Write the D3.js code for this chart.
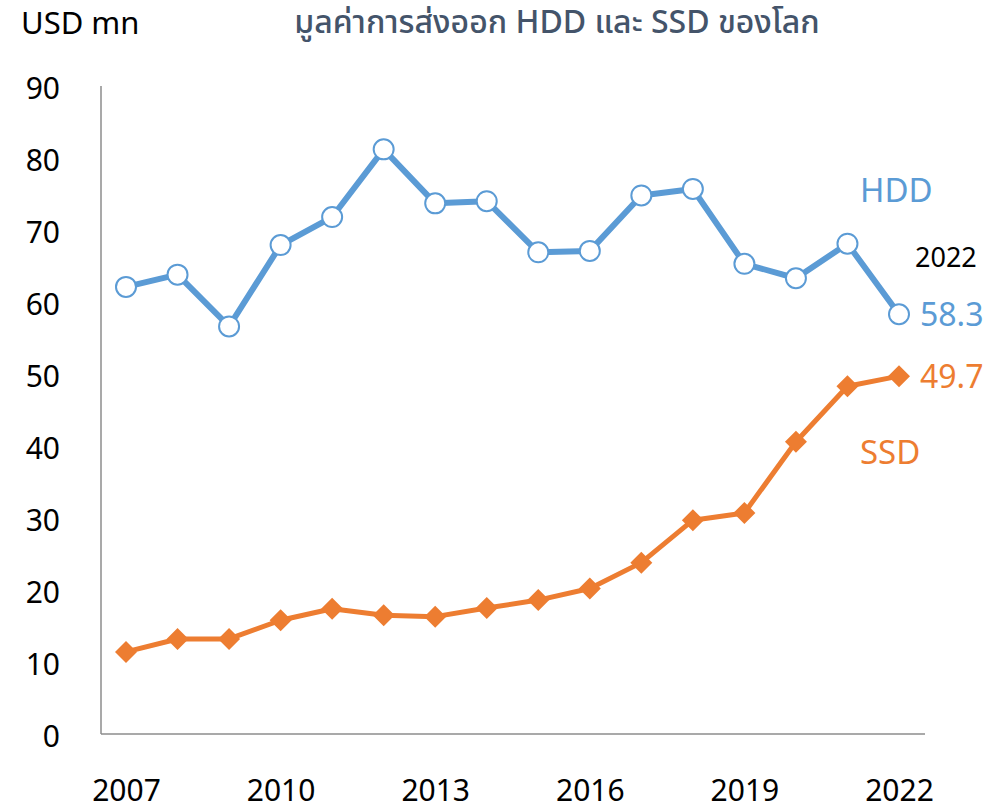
<!DOCTYPE html>
<html><head><meta charset="utf-8">
<script src="https://cdn.jsdelivr.net/npm/d3@7"></script>
<style>
html,body{margin:0;padding:0;background:#fff;}
text{font-family:"Noto Sans","Noto Sans Thai","Open Sans",sans-serif;}
</style></head>
<body>
<svg id="c" width="1005" height="808"></svg>
<script>
const years = [2007,2008,2009,2010,2011,2012,2013,2014,2015,2016,2017,2018,2019,2020,2021,2022];
const hdd = [62.1,63.8,56.6,67.9,71.8,81.2,73.7,74.0,66.9,67.1,74.8,75.7,65.3,63.3,68.1,58.3];
const ssd = [11.4,13.2,13.2,15.8,17.4,16.5,16.3,17.5,18.6,20.2,23.8,29.7,30.7,40.6,48.3,49.7];
const yTicks = [0,10,20,30,40,50,60,70,80,90];
const xTickYears = [2007,2010,2013,2016,2019,2022];
const titleText = "มูลค่าการส่งออก HDD และ SSD ของโลก";
const unitText = "USD mn";

const svg = d3.select("#c");
const x = d3.scaleLinear().domain([2007,2022]).range([126,899]);
const y = d3.scaleLinear().domain([0,90]).range([734,86]);
const blue = "#5B9BD5", orange = "#ED7D31";

// axes lines
svg.append("line").attr("x1",101).attr("x2",101).attr("y1",y(90)).attr("y2",y(0))
  .attr("stroke","#8c8c8c").attr("stroke-width",1.5);
svg.append("line").attr("x1",101).attr("x2",925).attr("y1",y(0)).attr("y2",y(0))
  .attr("stroke","#8c8c8c").attr("stroke-width",1.5);

// y tick labels
const yAxis = d3.axisLeft(y).tickValues(yTicks).tickSize(0).tickPadding(0);
const gy = svg.append("g").attr("transform","translate(60,3)").call(yAxis);
gy.select(".domain").remove();
gy.selectAll("text").attr("font-size",30).attr("fill","#000")
  .style("font-family","'Noto Sans',sans-serif");

// x tick labels
const xAxis = d3.axisBottom(x).tickValues(xTickYears).tickFormat(d3.format("d")).tickSize(0).tickPadding(0);
const gx = svg.append("g").attr("transform","translate(0,"+(y(0)+56)+")").call(xAxis);
gx.select(".domain").remove();
gx.selectAll("text").attr("font-size",30).attr("fill","#000").attr("dy","0.35em")
  .style("font-family","'Noto Sans',sans-serif");

// lines
const line = d3.line().x((d,i)=>x(years[i])).y(d=>y(d));
svg.append("path").datum(hdd).attr("d",line).attr("fill","none").attr("stroke",blue)
  .attr("stroke-width",6).attr("stroke-linejoin","round");
svg.append("path").datum(ssd).attr("d",line).attr("fill","none").attr("stroke",orange)
  .attr("stroke-width",5).attr("stroke-linejoin","round");

// markers
svg.selectAll("circle.h").data(hdd).enter().append("circle")
  .attr("cx",(d,i)=>x(years[i])).attr("cy",d=>y(d)).attr("r",10)
  .attr("fill","#fff").attr("stroke",blue).attr("stroke-width",2);
const dsz = 11;
svg.selectAll("path.s").data(ssd).enter().append("path")
  .attr("d",(d,i)=>{const cx=x(years[i]),cy=y(d);
    return `M${cx},${cy-dsz}L${cx+dsz},${cy}L${cx},${cy+dsz}L${cx-dsz},${cy}Z`;})
  .attr("fill",orange);

// texts
svg.append("text").attr("x",21).attr("y",34).attr("font-size",31).attr("fill","#000").text(unitText);
svg.append("text").attr("x",557).attr("y",33).attr("text-anchor","middle").attr("font-size",32)
  .attr("font-weight",500).attr("fill","#44546A").text(titleText);

svg.append("text").attr("x",860).attr("y",202).attr("font-size",33).attr("fill",blue).text("HDD");
svg.append("text").attr("x",860).attr("y",464).attr("font-size",33).attr("fill",orange).text("SSD");
svg.append("text").attr("x",915).attr("y",267).attr("font-size",27).attr("fill","#000").text("2022");
svg.append("text").attr("x",920).attr("y",y(hdd[15])+12).attr("font-size",32).attr("fill",blue).text(hdd[15].toFixed(1));
svg.append("text").attr("x",920).attr("y",y(ssd[15])+12).attr("font-size",32).attr("fill",orange).text(ssd[15].toFixed(1));
</script>
</body></html>
